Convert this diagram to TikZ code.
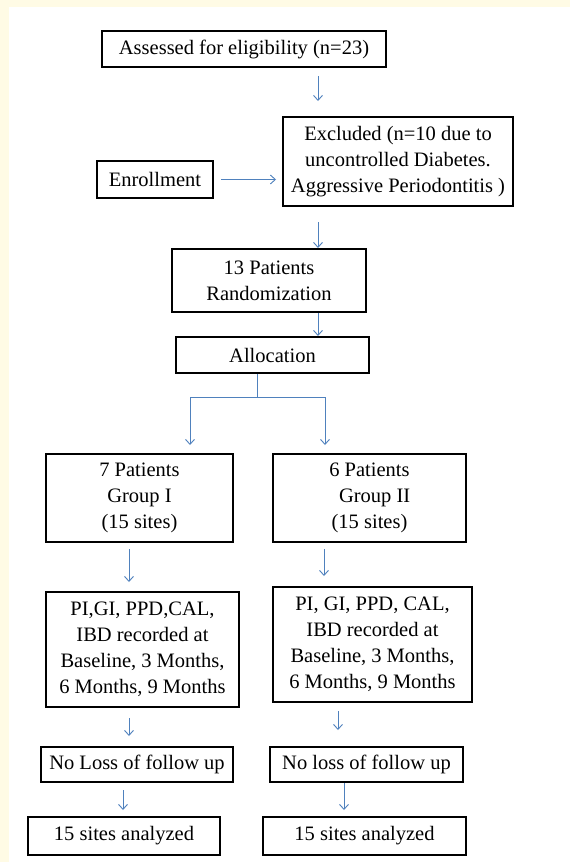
\documentclass[tikz,border=0pt]{standalone}
\usepackage{fontspec}
\setmainfont{Liberation Serif}
\usetikzlibrary{positioning,arrows.meta}
\definecolor{cream}{HTML}{FFFBE5}
\definecolor{arrowblue}{HTML}{4F81BD}

\begin{document}
\begin{tikzpicture}[x=1pt,y=-1pt,
    box/.style={rectangle, draw=black, line width=2pt, align=center, inner sep=0pt,
        font=\fontsize{20.5}{26}\selectfont},
    arr/.style={->, draw=arrowblue, line width=0.9pt},
    >={Straight Barb[length=5pt,width=9pt]}]
        \useasboundingbox (0,0) rectangle (570,862);
        \fill[white] (0,0) rectangle (570,862);
        \fill[cream] (0,0) rectangle (570,7);
        \fill[cream] (0,0) rectangle (9,862);

        \node[box, minimum width=284pt, minimum height=36pt] (assess) at (244,49) {Assessed for eligibility (n=23)};
        \node[box, minimum width=230pt, minimum height=89pt] (excluded) at (398,161.5) {Excluded (n=10 due to\\uncontrolled Diabetes.\\Aggressive Periodontitis )};
        \node[box, minimum width=116pt, minimum height=37pt] (enroll) at (155,179.5) {Enrollment};
        \node[box, minimum width=194pt, minimum height=63pt] (random) at (269,280.5) {13 Patients\\Randomization};
        \node[box, minimum width=193pt, minimum height=36pt] (alloc) at (272.5,355) {Allocation};

        \node[box, minimum width=187pt, minimum height=88pt] (groupA) at (139.5,498) {7 Patients\\Group I\\(15 sites)};
        \node[box, minimum width=193pt, minimum height=88pt] (groupB) at (369.5,498) {6 Patients\\\ \ Group II\\(15 sites)};
        \node[box, minimum width=193pt, minimum height=115pt] (recA) at (142.5,649.5) {PI,GI, PPD,CAL,\\IBD recorded at\\Baseline, 3 Months,\\6 Months, 9 Months};
        \node[box, minimum width=199pt, minimum height=115pt] (recB) at (372.5,644.5) {PI, GI, PPD, CAL,\\IBD recorded at\\Baseline, 3 Months,\\6 Months, 9 Months};
        \node[box, minimum width=192pt, minimum height=35pt] (lossA) at (137,764.5) {No Loss of follow up};
        \node[box, minimum width=193pt, minimum height=35pt] (lossB) at (366.5,764.5) {No loss of follow up};
        \node[box, minimum width=192pt, minimum height=38pt] (siteA) at (124,836) {15 sites analyzed};
        \node[box, minimum width=203pt, minimum height=38pt] (siteB) at (364.5,836) {15 sites analyzed};

        \draw[arr, shorten <=8pt, shorten >=15pt] ([xshift=74pt]assess.south) -- ([xshift=-80pt]excluded.north);
        \draw[arr, shorten <=7pt, shorten >=6pt] (enroll.east) -- (enroll.east -| excluded.west);
        \draw[arr, shorten <=15pt] ([xshift=-80pt]excluded.south) -- ([xshift=49pt]random.north);
        \draw[arr] ([xshift=49pt]random.south) -- ([xshift=45.5pt]alloc.north);
        \draw[arr, shorten >=8pt] ([xshift=-15.5pt]alloc.south) -- ++(0,23) -| ([xshift=50.5pt]groupA.north);
        \draw[arr, shorten >=8pt] ([xshift=-15.5pt]alloc.south) -- ++(0,23) -| ([xshift=-44.5pt]groupB.north);
        \draw[arr, shorten <=6pt, shorten >=9pt] ([xshift=-10.5pt]groupA.south) -- ([xshift=-13.5pt]recA.north);
        \draw[arr, shorten <=6pt, shorten >=10pt] ([xshift=-45.5pt]groupB.south) -- ([xshift=-48.5pt]recB.north);
        \draw[arr, shorten <=10pt, shorten >=10pt] ([xshift=-13.5pt]recA.south) -- ([xshift=-8pt]lossA.north);
        \draw[arr, shorten <=8pt, shorten >=16pt] ([xshift=-34.5pt]recB.south) -- ([xshift=-28.5pt]lossB.north);
        \draw[arr, shorten <=7pt, shorten >=6pt] ([xshift=-14pt]lossA.south) -- ([xshift=-1pt]siteA.north);
        \draw[arr, shorten >=6pt] ([xshift=-22.5pt]lossB.south) -- ([xshift=-20.5pt]siteB.north);
    \end{tikzpicture}
\end{document}
